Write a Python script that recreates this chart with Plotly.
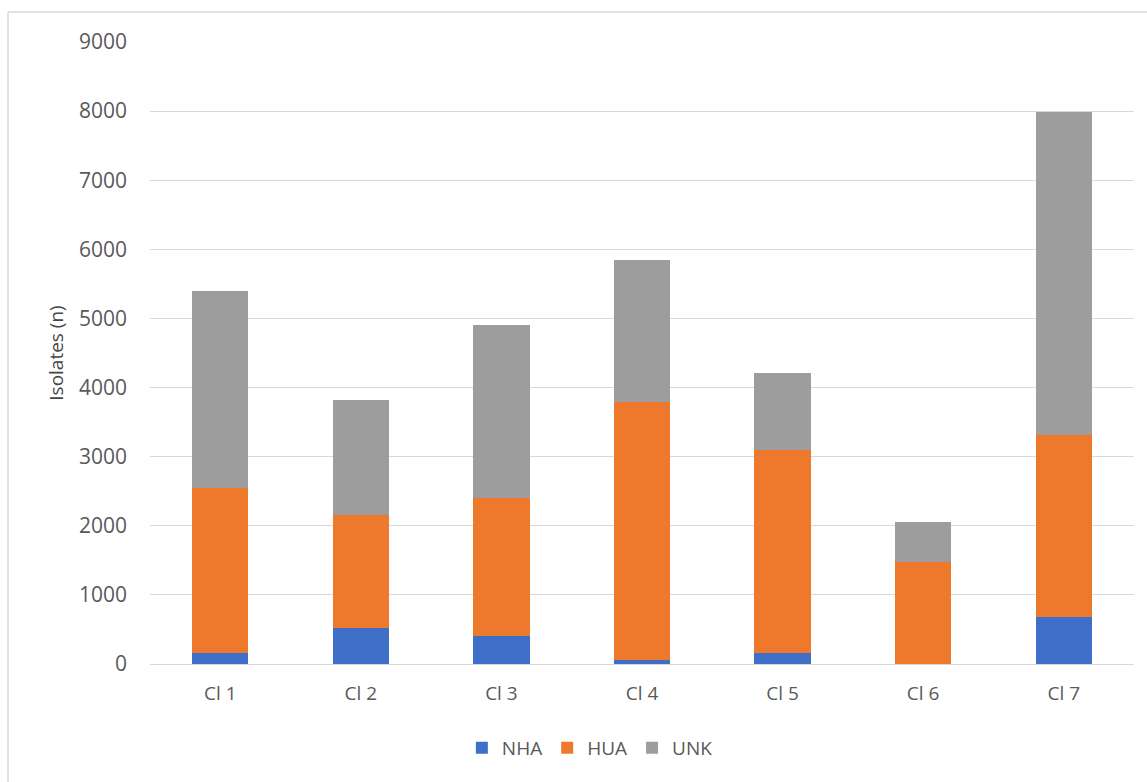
import plotly.graph_objects as go

# Isolate counts per cluster, split by attribution group
clusters = ["Cl 1", "Cl 2", "Cl 3", "Cl 4", "Cl 5", "Cl 6", "Cl 7"]
nha = [160, 520, 410, 60, 160, 5, 680]
hua = [2390, 1640, 1990, 3730, 2940, 1475, 2630]
unk = [2850, 1660, 2500, 2055, 1110, 575, 4680]

y_ticks = [0, 1000, 2000, 3000, 4000, 5000, 6000, 7000, 8000, 9000]

series = [
    ("NHA", nha, "#3F6FC9"),
    ("HUA", hua, "#EE792C"),
    ("UNK", unk, "#9D9D9D"),
]

fig = go.Figure()
for name, values, color in series:
    fig.add_trace(go.Bar(
        name=name,
        x=clusters,
        y=values,
        marker=dict(color=color, line=dict(width=0)),
    ))

font_family = "Open Sans, Noto Sans, sans-serif"
text_color = "#595959"

fig.update_layout(
    barmode="stack",
    bargap=0.6,
    width=1147,
    height=782,
    margin=dict(l=150, r=13, t=42, b=118),
    paper_bgcolor="white",
    plot_bgcolor="white",
    font=dict(family=font_family, size=19, color=text_color),
    showlegend=True,
    legend=dict(
        orientation="h",
        x=0.447,
        xanchor="center",
        y=-0.135,
        yanchor="middle",
        font=dict(size=19, color=text_color),
        itemwidth=30,
        traceorder="normal",
    ),
    xaxis=dict(
        showgrid=False,
        showline=False,
        ticks="",
        tickfont=dict(size=19, color=text_color),
        ticklabelstandoff=16,
    ),
    yaxis=dict(
        range=[0, 9000],
        tickvals=y_ticks,
        ticktext=[str(v) for v in y_ticks],
        showgrid=True,
        gridcolor="#D9D9D9",
        gridwidth=1,
        zeroline=True,
        zerolinecolor="#D9D9D9",
        zerolinewidth=1,
        showline=False,
        ticks="",
        tickfont=dict(size=21, color=text_color),
        ticklabelstandoff=22,
        title=dict(
            text="Isolates (n)",
            font=dict(size=19, color="#454545", family=font_family),
            standoff=10,
        ),
    ),
    shapes=[
        dict(type="line", xref="paper", yref="paper",
             x0=-0.1443, x1=1.02, y0=1.0482, y1=1.0482,
             line=dict(color="#D9D9D9", width=1.5)),
        dict(type="line", xref="paper", yref="paper",
             x0=-0.1443, x1=-0.1443, y0=1.0482, y1=-0.2,
             line=dict(color="#D9D9D9", width=1.5)),
    ],
)

fig.write_html("out.html")
